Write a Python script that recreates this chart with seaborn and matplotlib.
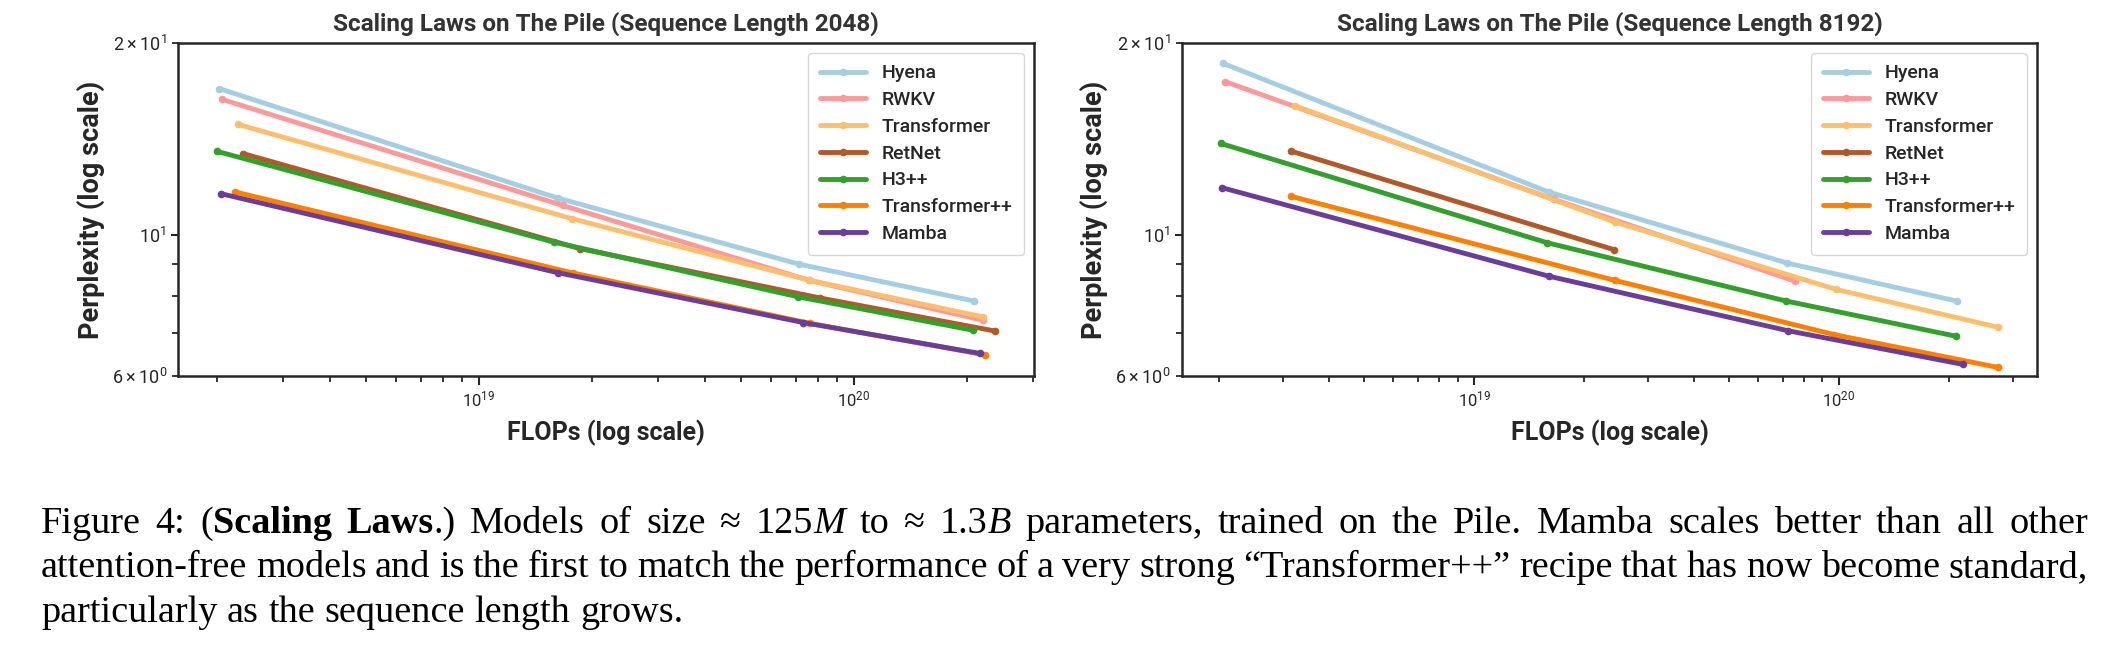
import pandas as pd
import seaborn as sns
import matplotlib.pyplot as plt

models = ['Hyena', 'RWKV', 'Transformer', 'RetNet', 'H3++', 'Transformer++', 'Mamba']
colors = ['#a6cee3', '#fb9a99', '#fdbf6f', '#b15928', '#33a02c', '#ff7f00', '#6a3d9a']

# Sequence length 2048: FLOPs and perplexity per model
hyena_2k_x = [2.03e18, 1.62e19, 7.15e19, 2.09e20]
hyena_2k_y = [16.96, 11.42, 8.99, 7.87]
rwkv_2k_x = [2.06e18, 1.67e19, 7.6e19, 2.21e20]
rwkv_2k_y = [16.32, 11.12, 8.48, 7.34]
transformer_2k_x = [2.27e18, 1.77e19, 7.63e19, 2.21e20]
transformer_2k_y = [14.91, 10.6, 8.48, 7.43]
retnet_2k_x = [2.35e18, 1.86e19, 8.1e19, 2.38e20]
retnet_2k_y = [13.41, 9.51, 7.96, 7.06]
h3_2k_x = [2.0e18, 1.58e19, 7.1e19, 2.08e20]
h3_2k_y = [13.52, 9.74, 7.99, 7.08]
tpp_2k_x = [2.24e18, 1.78e19, 7.63e19, 2.23e20]
tpp_2k_y = [11.67, 8.71, 7.26, 6.48]
mamba_2k_x = [2.05e18, 1.62e19, 7.33e19, 2.17e20]
mamba_2k_y = [11.6, 8.72, 7.28, 6.51]

# Sequence length 8192
hyena_8k_x = [2.05e18, 1.6e19, 7.19e19, 2.1e20]
hyena_8k_y = [18.58, 11.67, 9.03, 7.87]
rwkv_8k_x = [2.08e18, 1.65e19, 7.55e19]
rwkv_8k_y = [17.39, 11.37, 8.46]
transformer_8k_x = [3.23e18, 2.43e19, 9.8e19, 2.72e20]
transformer_8k_y = [15.94, 10.47, 8.21, 7.16]
retnet_8k_x = [3.15e18, 2.41e19]
retnet_8k_y = [13.53, 9.48]
h3_8k_x = [2.02e18, 1.58e19, 7.16e19, 2.09e20]
h3_8k_y = [13.91, 9.72, 7.87, 6.93]
tpp_8k_x = [3.15e18, 2.43e19, 9.7e19, 2.73e20]
tpp_8k_y = [11.49, 8.48, 6.97, 6.19]
mamba_8k_x = [2.03e18, 1.6e19, 7.23e19, 2.18e20]
mamba_8k_y = [11.86, 8.61, 7.07, 6.26]

caption_lines = [
    ['Figure', '4:', [('(', ''), ('Scaling', 'b')], [('Laws', 'b'), ('.)', '')], 'Models', 'of', 'size',
     '\u2248', [('125', ''), ('M', 'i')], 'to', '\u2248', [('1.3', ''), ('B', 'i')], 'parameters,', 'trained',
     'on', 'the', 'Pile.', 'Mamba', 'scales', 'better', 'than', 'all', 'other'],
    ['attention-free', 'models', 'and', 'is', 'the', 'first', 'to', 'match', 'the', 'performance', 'of', 'a',
     'very', 'strong', '\u201cTransformer++\u201d', 'recipe', 'that', 'has', 'now', 'become', 'standard,'],
    ['particularly', 'as', 'the', 'sequence', 'length', 'grows.'],
]


def to_frame(xs, ys):
    rows = []
    for name, x, y in zip(models, xs, ys):
        for fx, py in zip(x, y):
            rows.append({'model': name, 'flops': fx, 'ppl': py})
    return pd.DataFrame(rows)


df_2k = to_frame([hyena_2k_x, rwkv_2k_x, transformer_2k_x, retnet_2k_x, h3_2k_x, tpp_2k_x, mamba_2k_x],
                 [hyena_2k_y, rwkv_2k_y, transformer_2k_y, retnet_2k_y, h3_2k_y, tpp_2k_y, mamba_2k_y])
df_8k = to_frame([hyena_8k_x, rwkv_8k_x, transformer_8k_x, retnet_8k_x, h3_8k_x, tpp_8k_x, mamba_8k_x],
                 [hyena_8k_y, rwkv_8k_y, transformer_8k_y, retnet_8k_y, h3_8k_y, tpp_8k_y, mamba_8k_y])

sns.set_style('ticks')
plt.rcParams['font.family'] = ['Roboto', 'DejaVu Sans']
plt.rcParams['axes.linewidth'] = 1.8
plt.rcParams['axes.edgecolor'] = '#262626'
plt.rcParams['xtick.major.size'] = 6.5
plt.rcParams['xtick.minor.size'] = 4.5
plt.rcParams['ytick.major.size'] = 5
plt.rcParams['ytick.minor.size'] = 4.5
plt.rcParams['xtick.major.width'] = 1.5
plt.rcParams['xtick.minor.width'] = 1.3
plt.rcParams['ytick.major.width'] = 1.5
plt.rcParams['ytick.minor.width'] = 1.3

palette = dict(zip(models, colors))

fig = plt.figure(figsize=(21.25, 6.54), dpi=100)
ax1 = fig.add_axes([0.0838, 0.425, 0.4028, 0.5092])
ax2 = fig.add_axes([0.5562, 0.425, 0.4024, 0.5092])

for ax, df, title in [(ax1, df_2k, 'Scaling Laws on The Pile (Sequence Length 2048)'),
                      (ax2, df_8k, 'Scaling Laws on The Pile (Sequence Length 8192)')]:
    ax.set_xscale('log')
    ax.set_yscale('log')
    sns.lineplot(data=df, x='flops', y='ppl', hue='model', hue_order=models, palette=palette,
                 marker='o', markersize=5.5, markeredgewidth=0, linewidth=3.5, ax=ax)
    ax.set_ylim(6, 20)
    ax.set_title(title, fontsize=17.5, fontweight='bold', color='#333333', pad=9)
    ax.set_xlabel('FLOPs (log scale)', fontsize=18, fontweight='bold', labelpad=7)
    ax.set_ylabel('Perplexity (log scale)', fontsize=19.5, fontweight='bold', labelpad=5)
    ax.tick_params(axis='x', which='both', labelsize=12, colors='#262626')
    ax.tick_params(axis='y', which='both', labelsize=13, colors='#262626')
    sns.move_legend(ax, 'upper right', title=None, fontsize=14, handlelength=2.4,
                    labelspacing=0.45, borderpad=0.6)
    for t in ax.get_legend().get_texts():
        t.set_fontweight('medium')
        t.set_color('#262626')

# caption below the panels, justified like the paper
fig.canvas.draw()
renderer = fig.canvas.get_renderer()
H = fig.bbox.height
W = fig.bbox.width
cap_font = ['Liberation Serif', 'DejaVu Serif']
cap_size = 27.5
left_px, right_px = 41, 2088
baselines = [533, 577, 622]
for i, (words, base) in enumerate(zip(caption_lines, baselines)):
    placed = []
    total = 0
    for word in words:
        if isinstance(word, str):
            word = [(word, '')]
        parts = []
        for text, st in word:
            t = fig.text(0, 1 - base / H, text, family=cap_font, fontsize=cap_size,
                         fontweight='bold' if 'b' in st else 'normal',
                         fontstyle='italic' if 'i' in st else 'normal',
                         va='baseline', ha='left', color='black')
            w = t.get_window_extent(renderer).width
            parts.append((t, w))
            total += w
        placed.append(parts)
    if i < len(caption_lines) - 1:
        gap = (right_px - left_px - total) / (len(placed) - 1)
    else:
        gap = 0.25 * cap_size * 100 / 72
    x = left_px
    for parts in placed:
        for t, w in parts:
            t.set_x(x / W)
            x += w
        x += gap

fig.savefig('out.png', dpi=100)
